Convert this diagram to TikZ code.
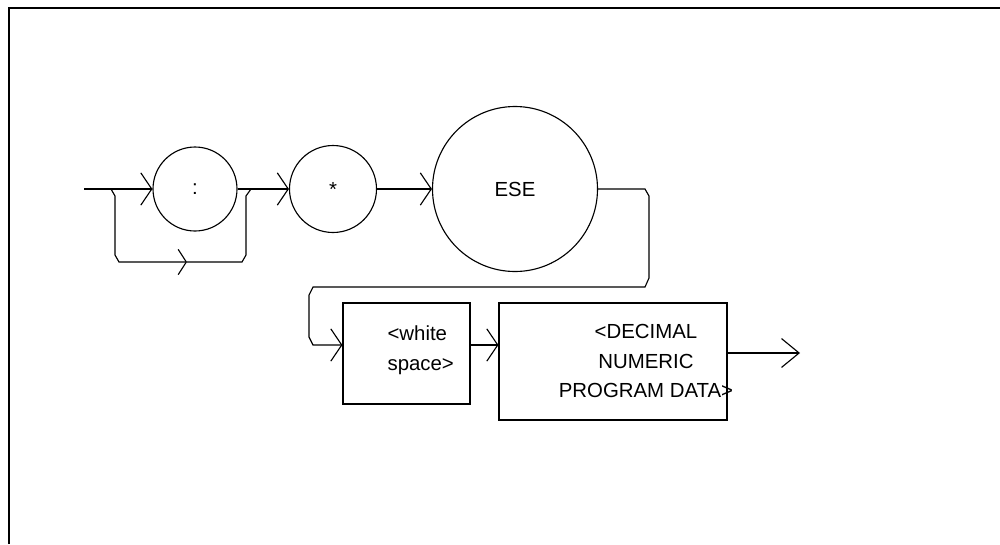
\documentclass[tikz,border=0pt]{standalone}
\usepackage{fontspec}
\setmainfont{Liberation Sans}
\usetikzlibrary{arrows.meta}

\def\s{0.025}
\def\punkt#1#2{({#1*\s},{-#2*\s})}

\tikzset{
	kreis/.style={draw,circle,inner sep=0pt,minimum size={#1*\s*1cm}},
	kasten/.style 2 args={draw,rectangle,inner sep=0pt,
		minimum width={#1*\s*1cm},minimum height={#2*\s*1cm}},
	pfeil/.style={-{Straight Barb[length=7.8pt,width=23pt]}},
	pfeilklein/.style={-{Straight Barb[length=5.8pt,width=18pt]}},
	pfeilende/.style={-{Straight Barb[length=12.5pt,width=20.5pt]}},
}

\begin{document}
\begin{tikzpicture}[thick,font=\fontsize{14.5}{21.3}\selectfont]

\useasboundingbox \punkt{0}{0} rectangle \punkt{1000}{544};
\draw[line width=1.4pt] \punkt{9}{544} -- \punkt{9}{8} -- \punkt{1000}{8};

% erste Zeile
\node[kreis=84] (doppelpunkt) at \punkt{195}{189} {:};
\node[kreis=87] (stern) at \punkt{333}{189} {*};
\node[kreis=165] (ese) at \punkt{515}{189} {ESE};

\path \punkt{84}{189} coordinate (start);
\path \punkt{111}{189} coordinate (ab);
\path \punkt{251}{189} coordinate (zu);
\path \punkt{187}{262} coordinate (mitte);

\draw[pfeil] (start) -- (doppelpunkt);
\draw[pfeil] (doppelpunkt) -- (stern);
\draw[pfeil] (stern) -- (ese);

% Umgehung
\draw[pfeilklein] (ab) -- \punkt{115}{196} -- \punkt{115}{255} -- \punkt{119}{262} -- (mitte);
\draw (mitte) -- \punkt{242}{262} -- \punkt{246}{255} -- \punkt{246}{196} -- (zu);

% zweite Zeile
\node[kasten={127}{101}] (weiss) at \punkt{406.5}{353.5} {};
\node[kasten={228}{117}] (dezimal) at \punkt{613}{361.5} {};
\node[anchor=west,align=left,inner sep=0pt] (weisstext) at \punkt{387}{350}
	{<white\\space>};
\node[align=center,inner sep=0pt] (dezimaltext) at \punkt{646}{361}
	{<DECIMAL\\NUMERIC\\PROGRAM DATA>};

\path \punkt{313}{345} coordinate (ein);
\path \punkt{800}{353} coordinate (ende);

\draw[pfeil] (ese.east) -- \punkt{645}{189} -- \punkt{649}{196} -- \punkt{649}{278}
	-- \punkt{645}{287} -- \punkt{313}{287} -- \punkt{309}{295} -- \punkt{309}{337}
	-- (ein) -- (ein -| weiss.west);
\draw[pfeil] (weiss.east |- ein) -- (dezimal.west |- ein);
\draw[pfeilende] (dezimal.east |- ende) -- (ende);

\end{tikzpicture}
\end{document}
